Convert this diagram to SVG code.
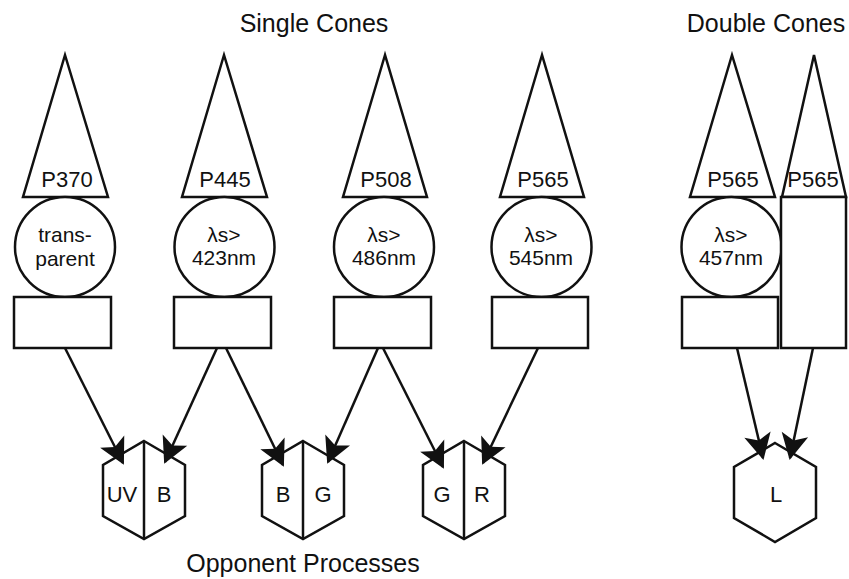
<svg xmlns="http://www.w3.org/2000/svg" width="849" height="579" viewBox="0 0 849 579">
<style>
.s{fill:#fff;stroke:#111;stroke-width:2.5;stroke-linejoin:miter}
.t{font-family:"Liberation Sans",Arial,sans-serif;font-size:22px;fill:#111;text-anchor:middle}
.u{font-family:"Liberation Sans",Arial,sans-serif;font-size:21px;fill:#111;text-anchor:middle}
.h{font-family:"Liberation Sans",Arial,sans-serif;font-size:25px;fill:#111;text-anchor:middle}
.c{fill:none;stroke:#111;stroke-width:2.5}
</style>
<defs>
<marker id="ah" markerUnits="userSpaceOnUse" markerWidth="30" markerHeight="30" refX="25" refY="12" orient="auto" overflow="visible">
<path d="M27,12 L1,-1.5 L7,12 L1,25.5 Z" fill="#111"/>
</marker>
</defs>
<rect width="849" height="579" fill="#fff"/>
<text class="h" x="314" y="32">Single Cones</text>
<text class="h" x="766" y="32">Double Cones</text>
<text class="h" x="303" y="572">Opponent Processes</text>

<g id="cone-p370">
<polygon class="s" points="65,55 23,197 108,197"/>
<text class="t" x="67" y="187">P370</text>
<circle class="s" cx="65" cy="247" r="50"/>
<text class="u"><tspan x="65" y="242">trans-</tspan><tspan x="65" y="266">parent</tspan></text>
<rect class="s" x="14" y="297" width="97" height="51"/>
</g>
<g id="cone-p445">
<polygon class="s" points="224,55 182,197 267,197"/>
<text class="t" x="225" y="187">P445</text>
<circle class="s" cx="224.5" cy="247" r="50"/>
<text class="u"><tspan x="224" y="242">λs&gt;</tspan><tspan x="224" y="265">423nm</tspan></text>
<rect class="s" x="174" y="297" width="97" height="51"/>
</g>
<g id="cone-p508">
<polygon class="s" points="385,55 343,197 427,197"/>
<text class="t" x="386" y="187">P508</text>
<circle class="s" cx="384" cy="247" r="50"/>
<text class="u"><tspan x="384" y="242">λs&gt;</tspan><tspan x="384" y="265">486nm</tspan></text>
<rect class="s" x="334" y="297" width="97" height="51"/>
</g>
<g id="cone-p565">
<polygon class="s" points="542,55 500,197 584,197"/>
<text class="t" x="543" y="187">P565</text>
<circle class="s" cx="541.5" cy="247" r="50"/>
<text class="u"><tspan x="541" y="242">λs&gt;</tspan><tspan x="541" y="265">545nm</tspan></text>
<rect class="s" x="492" y="297" width="96" height="51"/>
</g>
<g id="double-cone-principal">
<polygon class="s" points="732,55 690,197 775,197"/>
<text class="t" x="733" y="187">P565</text>
<circle class="s" cx="731.5" cy="247" r="50"/>
<text class="u"><tspan x="731" y="242">λs&gt;</tspan><tspan x="731" y="265">457nm</tspan></text>
<rect class="s" x="682" y="297" width="96" height="51"/>
</g>
<g id="double-cone-accessory">
<polygon class="s" points="814,55 782,197 846,197"/>
<text class="t" x="813" y="187">P565</text>
<rect class="s" x="781" y="197" width="65" height="151"/>
</g>

<g id="op-uv-b">
<polygon class="s" points="144,441 185,465 185,516 144,539 103,516 103,465"/>
<line class="c" x1="144" y1="441" x2="144" y2="539"/>
<text class="t" x="122" y="502">UV</text>
<text class="t" x="164" y="502">B</text>
</g>
<g id="op-b-g">
<polygon class="s" points="303,441 344,465 344,516 303,539 262,516 262,465"/>
<line class="c" x1="303" y1="441" x2="303" y2="539"/>
<text class="t" x="283" y="502">B</text>
<text class="t" x="323" y="502">G</text>
</g>
<g id="op-g-r">
<polygon class="s" points="464,441 505,465 505,516 464,539 423,516 423,465"/>
<line class="c" x1="464" y1="441" x2="464" y2="539"/>
<text class="t" x="442" y="502">G</text>
<text class="t" x="482" y="502">R</text>
</g>
<g id="op-l">
<polygon class="s" points="775,443 816,467 816,518 775,542 734,518 734,467"/>
<text class="t" x="776" y="502">L</text>
</g>

<g id="connectors">
<line class="c" x1="65" y1="348" x2="123" y2="463" marker-end="url(#ah)"/>
<line class="c" x1="217" y1="348" x2="165" y2="462" marker-end="url(#ah)"/>
<line class="c" x1="226" y1="348" x2="283" y2="465" marker-end="url(#ah)"/>
<line class="c" x1="378" y1="348" x2="328" y2="462" marker-end="url(#ah)"/>
<line class="c" x1="383" y1="348" x2="443" y2="467" marker-end="url(#ah)"/>
<line class="c" x1="538" y1="348" x2="483" y2="463" marker-end="url(#ah)"/>
<line class="c" x1="737" y1="348" x2="763" y2="458" marker-end="url(#ah)"/>
<line class="c" x1="813" y1="348" x2="790" y2="458" marker-end="url(#ah)"/>
</g>
</svg>
